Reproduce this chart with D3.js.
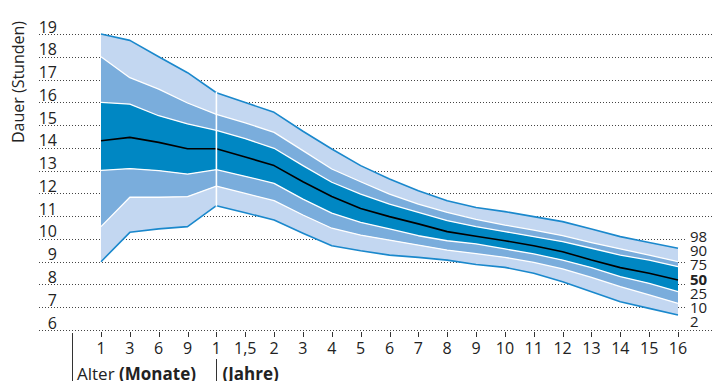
<!DOCTYPE html>
<html><head><meta charset="utf-8">
<script src="https://cdn.jsdelivr.net/npm/d3@7"></script>
<style>html,body{margin:0;padding:0;background:#fff;overflow:hidden}svg{display:block;font-family:"Open Sans",sans-serif}</style>
</head><body><svg id="c" width="714" height="381"></svg>
<script>
const tickLabels = ["1","3","6","9","1","1,5","2","3","4","5","6","7","8","9","10","11","12","13","14","15","16"];
const yTicks = [6,7,8,9,10,11,12,13,14,15,16,17,18,19];
const p98 = [19.0,18.72,18.0,17.3,16.42,15.99,15.56,14.73,13.95,13.22,12.63,12.12,11.68,11.38,11.20,10.98,10.76,10.44,10.10,9.84,9.59];
const p90 = [18.0,17.08,16.58,15.97,15.47,15.1,14.68,13.88,13.07,12.51,11.97,11.53,11.17,10.86,10.61,10.39,10.14,9.84,9.56,9.29,9.0];
const p75 = [16.0,15.92,15.41,15.05,14.77,14.4,13.98,13.22,12.49,11.97,11.53,11.17,10.80,10.54,10.32,10.10,9.88,9.59,9.29,9.07,8.78];
const p50 = [14.31,14.46,14.24,13.96,13.96,13.6,13.22,12.51,11.86,11.34,10.98,10.66,10.32,10.12,9.92,9.70,9.44,9.07,8.74,8.49,8.20];
const p25 = [13.01,13.09,13.0,12.85,13.04,12.75,12.44,11.75,11.13,10.73,10.44,10.14,9.92,9.78,9.56,9.34,9.07,8.74,8.34,8.05,7.68];
const p10 = [10.54,11.83,11.83,11.86,12.32,12.0,11.68,11.05,10.47,10.17,9.95,9.73,9.51,9.35,9.19,8.97,8.68,8.31,7.90,7.54,7.17];
const p2  = [9.0,10.29,10.44,10.54,11.46,11.15,10.83,10.25,9.70,9.48,9.29,9.19,9.07,8.88,8.75,8.49,8.12,7.68,7.24,6.95,6.66];
const percentileLabels = ["98","90","75","50","25","10","2"];

const svg = d3.select("#c");
const idx = d3.range(tickLabels.length);
const x = d3.scalePoint().domain(idx).range([101, 678]);
const y = d3.scaleLinear().domain([6, 19]).range([330, 34]);

// gridlines
svg.append("g").selectAll("line").data(yTicks).join("line")
  .attr("x1", 39).attr("x2", 714)
  .attr("y1", d => Math.round(y(d)) + 0.5).attr("y2", d => Math.round(y(d)) + 0.5)
  .attr("stroke", "#444").attr("stroke-width", 1).attr("stroke-dasharray", "1,2");

// y labels
svg.append("g").selectAll("text").data(yTicks).join("text")
  .attr("x", 57).attr("y", d => y(d) - 1.5).attr("text-anchor", "end")
  .attr("font-size", 16).attr("fill", "#222").text(d => d);

svg.append("text").attr("transform", "translate(24,82) rotate(-90)")
  .attr("text-anchor", "middle").attr("font-size", 16).attr("fill", "#222").text("Dauer (Stunden)");

// bands
const band = (lo, hi, col) => {
  const a = d3.area().x(i => x(i)).y0(i => y(lo[i])).y1(i => y(hi[i]));
  svg.append("path").datum(idx).attr("d", a).attr("fill", col);
};
band(p90, p98, "#c3d7f1");
band(p75, p90, "#7aaddc");
band(p25, p75, "#0087c3");
band(p10, p25, "#7aaddc");
band(p2, p10, "#c3d7f1");

const ln = (arr, col, w) => {
  const l = d3.line().x(i => x(i)).y(i => y(arr[i]));
  svg.append("path").datum(idx).attr("d", l).attr("fill", "none")
    .attr("stroke", col).attr("stroke-width", w).attr("stroke-linejoin", "round");
};
[p90, p75, p25, p10].forEach(a => ln(a, "#ffffff", 1.3));
ln(p98, "#1a88cc", 1.6);
ln(p2, "#1a88cc", 1.6);
ln(p50, "#000000", 1.6);

// separator at 1 year
svg.append("line").attr("x1", x(4)).attr("x2", x(4))
  .attr("y1", y(p98[4]) - 1).attr("y2", y(p2[4]) + 1)
  .attr("stroke", "#fff").attr("stroke-width", 1.6);

// x axis ticks
const xg = svg.append("g").attr("transform", "translate(0,332)");
xg.selectAll("line").data(idx).join("line")
  .attr("x1", d => Math.round(x(d)) + 0.5).attr("x2", d => Math.round(x(d)) + 0.5)
  .attr("y1", 0).attr("y2", 5).attr("stroke", "#333").attr("stroke-width", 1);
xg.selectAll("text").data(idx).join("text")
  .attr("x", d => x(d)).attr("y", 22).attr("text-anchor", "middle")
  .attr("font-size", 16).attr("fill", "#222").text(d => tickLabels[d]);

svg.append("line").attr("x1", 72.5).attr("x2", 72.5).attr("y1", 333).attr("y2", 381).attr("stroke", "#333");
svg.append("line").attr("x1", Math.round(x(4)) + 0.5).attr("x2", Math.round(x(4)) + 0.5).attr("y1", 359).attr("y2", 381).attr("stroke", "#333");

const t1 = svg.append("text").attr("x", 77).attr("y", 380).attr("font-size", 17).attr("fill", "#222");
t1.append("tspan").text("Alter ");
t1.append("tspan").attr("font-weight", "bold").text("(Monate)");
svg.append("text").attr("x", x(4) + 6).attr("y", 380).attr("font-size", 17).attr("fill", "#222")
  .attr("font-weight", "bold").text("(Jahre)");

// percentile labels
svg.append("rect").attr("x", 686).attr("y", 228).attr("width", 28).attr("height", 99).attr("fill", "#fff");
svg.append("g").selectAll("text").data(percentileLabels).join("text")
  .attr("x", 690).attr("y", (d, i) => 236.7 + i * 14.17).attr("dy", "0.36em")
  .attr("font-size", 15).attr("fill", "#222")
  .attr("font-weight", d => d === "50" ? "bold" : "normal").text(d => d);
</script></body></html>
